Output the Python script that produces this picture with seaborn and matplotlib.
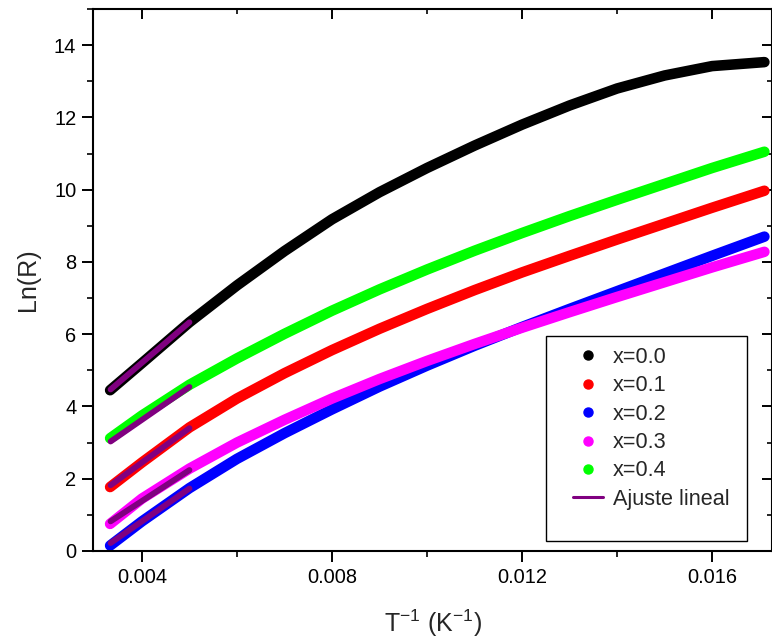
import numpy as np
import pandas as pd
import matplotlib
matplotlib.use("Agg")
import matplotlib.pyplot as plt
from matplotlib.lines import Line2D
from matplotlib.patches import Rectangle
from matplotlib.ticker import MultipleLocator
import seaborn as sns

# ---- data ----
inv_T = [0.00333, 0.004, 0.005, 0.006, 0.007, 0.008, 0.009, 0.010,
         0.011, 0.012, 0.013, 0.014, 0.015, 0.016, 0.0171]
lnR_x00 = [4.45, 5.20, 6.33, 7.35, 8.30, 9.18, 9.93, 10.60, 11.22, 11.80,
           12.33, 12.80, 13.16, 13.42, 13.53]
lnR_x01 = [1.77, 2.45, 3.42, 4.22, 4.92, 5.56, 6.15, 6.70, 7.22, 7.71,
           8.17, 8.62, 9.06, 9.50, 9.97]
lnR_x02 = [0.15, 0.82, 1.74, 2.55, 3.26, 3.92, 4.55, 5.13, 5.68, 6.20,
           6.70, 7.19, 7.68, 8.17, 8.70]
lnR_x03 = [0.75, 1.45, 2.28, 3.00, 3.63, 4.22, 4.76, 5.26, 5.73, 6.18,
           6.61, 7.03, 7.44, 7.85, 8.28]
lnR_x04 = [3.12, 3.75, 4.60, 5.33, 6.01, 6.65, 7.24, 7.79, 8.31, 8.80,
           9.27, 9.72, 10.16, 10.60, 11.05]

series_labels = ["x=0.0", "x=0.1", "x=0.2", "x=0.3", "x=0.4"]
series_colors = ["#000000", "#ff0000", "#0000ff", "#ff00ff", "#00ff00"]

# linear fits (start / end points)
fit_x = [0.00334, 0.00500]
fit_x00 = [4.47, 6.33]
fit_x01 = [1.82, 3.40]
fit_x02 = [0.22, 1.73]
fit_x03 = [0.82, 2.24]
fit_x04 = [3.03, 4.54]
fit_label = "Ajuste lineal"
fit_color = "#800080"

# ---- plotting ----
sns.set_style("ticks")
plt.rcParams["font.family"] = ["Liberation Sans", "DejaVu Sans"]
plt.rcParams["mathtext.fontset"] = "custom"
plt.rcParams["mathtext.rm"] = "Liberation Sans"

W, H = 772, 639
fig = plt.figure(figsize=(W / 100, H / 100), dpi=100)
ax_l, ax_r, ax_t, ax_b = 93, 772, 9, 551
ax = fig.add_axes([ax_l / W, 1 - ax_b / H, (ax_r - ax_l) / W, (ax_b - ax_t) / H])


def px2ax(px, py):
    return (px - ax_l) / (ax_r - ax_l), (ax_b - py) / (ax_b - ax_t)


all_series = [lnR_x00, lnR_x01, lnR_x02, lnR_x03, lnR_x04]
for vals, col in zip(all_series, series_colors):
    df = pd.DataFrame({"x": inv_T, "y": vals})
    sns.lineplot(data=df, x="x", y="y", color=col, linewidth=7.6,
                 solid_capstyle="round", solid_joinstyle="round",
                 sort=False, ax=ax, estimator=None)

for fv in [fit_x00, fit_x01, fit_x02, fit_x03, fit_x04]:
    df = pd.DataFrame({"x": fit_x, "y": fv})
    sns.lineplot(data=df, x="x", y="y", color=fit_color, linewidth=4.2,
                 solid_capstyle="round", sort=False, ax=ax, estimator=None)

ax.set_xlim(0.00297, 0.01726)
ax.set_ylim(0, 15)
ax.xaxis.set_minor_locator(MultipleLocator(0.002))
ax.yaxis.set_minor_locator(MultipleLocator(1))
ax.set_xticks([0.004, 0.008, 0.012, 0.016])
ax.set_xticklabels(["0.004", "0.008", "0.012", "0.016"])
ax.set_yticks([0, 2, 4, 6, 8, 10, 12, 14])
ax.set_yticklabels(["0", "2", "4", "6", "8", "10", "12", "14"])

for sp in ax.spines.values():
    sp.set_visible(True)
    sp.set_linewidth(1.5)
    sp.set_color("black")

ax.tick_params(which="major", direction="out", length=8, width=1.4,
               labelsize=14.4, pad=4, colors="black")
ax.tick_params(which="minor", direction="out", length=4.3, width=1.4)
ax.tick_params(which="both", top=True, right=True)
# top / right ticks point inward
for t in ax.xaxis.get_major_ticks():
    t.tick2line.set_marker(3)
    t.tick2line.set_markersize(7)
for t in ax.xaxis.get_minor_ticks():
    t.tick2line.set_marker(3)
    t.tick2line.set_markersize(3.6)
for t in ax.yaxis.get_major_ticks():
    t.tick2line.set_marker(0)
    t.tick2line.set_markersize(7)
for t in ax.yaxis.get_minor_ticks():
    t.tick2line.set_marker(0)
    t.tick2line.set_markersize(3.6)

ax.set_xlabel(r"T$^{\mathregular{-1}}$ (K$^{\mathregular{-1}}$)", fontsize=18, labelpad=15)
ax.set_ylabel("Ln(R)", fontsize=18, labelpad=10)

# legend frame
x0, y0 = px2ax(546, 541)
x1, y1 = px2ax(747, 336)
ax.add_patch(Rectangle((x0, y0), x1 - x0, y1 - y0, transform=ax.transAxes,
                       fill=True, facecolor="white", edgecolor="black",
                       linewidth=1.0, zorder=5))

handles = [Line2D([], [], marker="o", linestyle="", color=c, markeredgecolor=c,
                  markersize=6.5) for c in series_colors]
handles.append(Line2D([], [], color=fit_color, linewidth=2.2))
labels = series_labels + [fit_label]
lx, ly = px2ax(573, 347)
leg = ax.legend(handles, labels, loc="upper left", bbox_to_anchor=(lx, ly),
                fontsize=15.6, frameon=False, handlelength=1.38,
                handletextpad=0.46, labelspacing=0.34,
                borderpad=0.0, borderaxespad=0.0)
leg.set_zorder(6)

fig.savefig("out.png", dpi=100)
